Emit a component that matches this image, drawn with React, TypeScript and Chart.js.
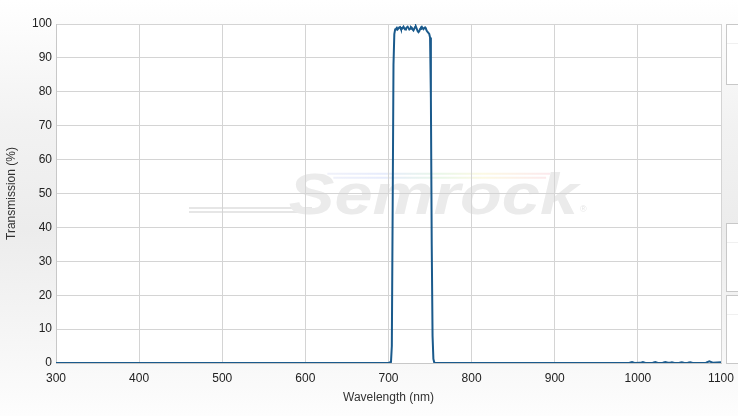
import React, { useEffect, useRef } from "react";
import { Chart, registerables } from "chart.js";

Chart.register(...registerables);

// Wavelength (nm)
const wavelengths: number[] = [
  300, 500, 700, 703, 704, 705, 706, 707, 708, 709, 710, 711, 712, 713, 714, 715, 716, 717, 718, 719,
  720, 721, 722, 723, 724, 725, 726, 727, 728, 729, 730, 731, 732, 733, 734, 735, 736, 737, 738, 739,
  740, 741, 742, 743, 744, 745, 746, 747, 748, 749, 750, 751, 752, 753, 754, 755, 756, 800, 900, 985,
  990, 993, 996, 1003, 1006, 1009, 1018, 1021, 1024, 1030, 1033, 1036, 1039, 1041, 1044, 1050, 1053,
  1056, 1060, 1063, 1066, 1082, 1086, 1090, 1100,
];

// Transmission (%)
const transmission: number[] = [
  0, 0, 0, 0.3, 5, 45, 88, 97, 98.4, 98.6, 98.9, 98.4, 98.7, 99.0, 99.1, 98.5, 98.5, 98.9, 99.2, 98.7,
  98.4, 98.7, 99.0, 99.2, 98.8, 98.4, 98.6, 99.1, 98.9, 98.4, 98.1, 98.6, 99.1, 99.2, 98.6, 97.9, 97.6, 97.9, 98.5, 99.0,
  99.2, 98.8, 98.5, 98.8, 99.0, 98.6, 98.0, 97.7, 97.4, 97.1, 96.0, 78, 35, 8, 1.2, 0.2, 0, 0, 0, 0,
  0.05, 0.25, 0, 0.05, 0.3, 0, 0.05, 0.25, 0, 0.05, 0.25, 0.05, 0.05, 0.2, 0, 0.05, 0.2,
  0.02, 0.05, 0.2, 0.02, 0.1, 0.5, 0.1, 0.2,
];

const xTickValues: number[] = [300, 400, 500, 600, 700, 800, 900, 1000, 1100];
const yTickValues: number[] = [0, 10, 20, 30, 40, 50, 60, 70, 80, 90, 100];

const xTitle = "Wavelength (nm)";
const yTitle = "Transmission (%)";
const watermark = "Semrock";

const FONT = '"Liberation Sans", Arial, sans-serif';

const backgroundPlugin = {
  id: "plotBackground",
  beforeDraw(chart: any) {
    const { ctx, chartArea } = chart;
    const { left, top, right, bottom } = chartArea;
    const w = right - left;
    const h = bottom - top;
    ctx.save();
    ctx.fillStyle = "#ffffff";
    ctx.fillRect(left, top, w, h);
    ctx.beginPath();
    ctx.rect(left, top, w, h);
    ctx.clip();

    // watermark lines on the left
    const lx0 = left + w * 0.2;
    const lx1 = left + w * 0.385;
    const ly = top + h * 0.543;
    ctx.strokeStyle = "#e6e6e6";
    ctx.lineWidth = 2;
    ctx.beginPath();
    ctx.moveTo(lx0, ly);
    ctx.lineTo(lx1, ly);
    ctx.moveTo(lx0, ly + 4);
    ctx.lineTo(lx1 - 10, ly + 4);
    ctx.stroke();

    // rainbow strokes
    const rx0 = left + w * 0.408;
    const rx1 = left + w * 0.743;
    const ry = top + h * 0.442;
    const grad = ctx.createLinearGradient(rx0, 0, rx1, 0);
    grad.addColorStop(0, "rgba(225,228,245,0.5)");
    grad.addColorStop(0.25, "rgba(210,220,250,0.55)");
    grad.addColorStop(0.5, "rgba(215,240,215,0.55)");
    grad.addColorStop(0.7, "rgba(250,245,205,0.55)");
    grad.addColorStop(1, "rgba(250,215,222,0.55)");
    ctx.strokeStyle = grad;
    ctx.lineWidth = 2;
    ctx.beginPath();
    ctx.moveTo(rx0, ry);
    ctx.lineTo(rx1, ry);
    ctx.moveTo(rx0 + 6, ry + 4);
    ctx.lineTo(rx1 - 4, ry + 4);
    ctx.stroke();

    // watermark text
    const tx0 = left + w * 0.35;
    const tx1 = left + w * 0.785;
    const ty = top + h * 0.56;
    ctx.font = `italic bold 57px ${FONT}`;
    ctx.textBaseline = "alphabetic";
    ctx.textAlign = "left";
    const tw = ctx.measureText(watermark).width;
    ctx.save();
    ctx.translate(tx0, ty);
    ctx.scale((tx1 - tx0) / tw, 1);
    ctx.fillStyle = "#ebebeb";
    ctx.fillText(watermark, 0, 0);
    ctx.restore();
    ctx.font = `9px ${FONT}`;
    ctx.fillStyle = "#e6e6e6";
    ctx.fillText("®", tx1 + 2, ty - 2);
    ctx.restore();
  },
};

export default function App() {
  const canvasRef = useRef<HTMLCanvasElement | null>(null);

  useEffect(() => {
    const canvas = canvasRef.current;
    if (!canvas) return;
    const points = wavelengths.map((x, i) => ({ x, y: transmission[i] }));
    const chart = new Chart(canvas, {
      type: "line",
      data: {
        datasets: [
          {
            data: points,
            borderColor: "#1a5a8c",
            borderWidth: 2,
            pointRadius: 0,
            tension: 0,
            fill: false,
          },
        ],
      },
      options: {
        responsive: false,
        animation: false,
        devicePixelRatio: 1,
        layout: { padding: { left: 0, right: 17, top: 24, bottom: 7 } },
        plugins: {
          legend: { display: false },
          tooltip: { enabled: false },
        },
        scales: {
          x: {
            type: "linear",
            min: 300,
            max: 1100,
            afterBuildTicks(scale: any) {
              scale.ticks = xTickValues.map((v) => ({ value: v }));
            },
            afterFit(scale: any) {
              scale.height = 46;
              scale.paddingLeft = 0;
              scale.paddingRight = 0;
            },
            grid: { color: "#d4d4d4", drawTicks: false, lineWidth: 1 },
            border: { color: "#c8c8c8" },
            ticks: {
              padding: 8,
              maxRotation: 0,
              autoSkip: false,
              color: "#222222",
              font: { family: FONT, size: 12 },
              callback: (value: any) => String(value),
            },
            title: {
              display: true,
              text: xTitle,
              color: "#333333",
              font: { family: FONT, size: 12 },
            },
          },
          y: {
            min: 0,
            max: 100,
            afterBuildTicks(scale: any) {
              scale.ticks = yTickValues.map((v) => ({ value: v }));
            },
            afterFit(scale: any) {
              scale.width = 56;
            },
            grid: { color: "#d4d4d4", drawTicks: false, lineWidth: 1 },
            border: { color: "#c8c8c8" },
            ticks: {
              padding: 4,
              color: "#222222",
              font: { family: FONT, size: 12 },
              callback: (value: any) => String(value),
            },
            title: {
              display: true,
              text: yTitle,
              color: "#333333",
              font: { family: FONT, size: 12 },
            },
          },
        },
      },
      plugins: [backgroundPlugin],
    });
    return () => chart.destroy();
  }, []);

  const boxStyle = (top: number, height: number): React.CSSProperties => ({
    position: "absolute",
    left: 726,
    top,
    width: 20,
    height: height - 2,
    border: "1px solid #c8c8c8",
    background: "#ffffff",
    boxSizing: "content-box",
  });
  const innerLine = (offset: number): React.CSSProperties => ({
    position: "absolute",
    left: 0,
    right: 0,
    top: offset,
    height: 1,
    background: "#f0f0f0",
  });

  return (
    <div
      style={{
        position: "fixed",
        left: 0,
        top: 0,
        width: 738,
        height: 416,
        overflow: "hidden",
        background: "linear-gradient(to bottom, #ffffff 0%, #f2f2f2 30%, #ececec 55%, #f7f7f7 85%, #fdfdfd 100%)",
      }}
    >
      <canvas
        ref={canvasRef}
        width={738}
        height={416}
        style={{ position: "absolute", left: 0, top: 0, width: 738, height: 416 }}
      />
      <div style={boxStyle(24, 61)}>
        <div style={innerLine(18)} />
      </div>
      <div style={boxStyle(223, 69)}>
        <div style={innerLine(18)} />
      </div>
      <div style={boxStyle(295, 69)}>
        <div style={innerLine(18)} />
      </div>
    </div>
  );
}
